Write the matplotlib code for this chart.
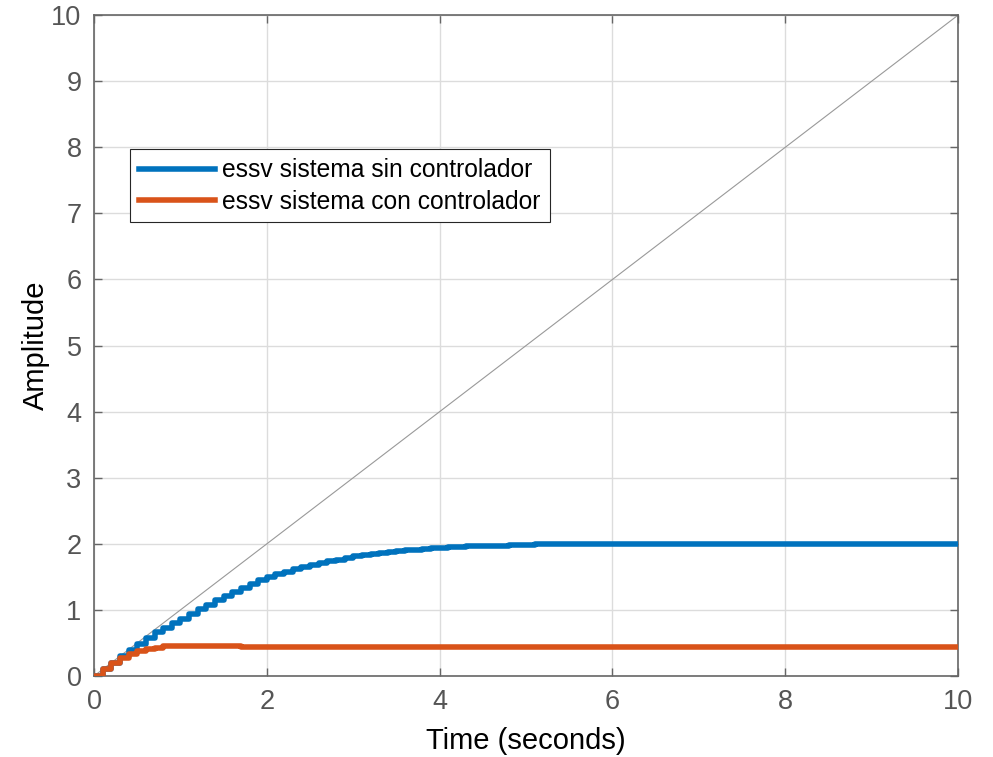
import numpy as np
import matplotlib
matplotlib.use('Agg')
from matplotlib import pyplot as plt

plt.rcParams['font.family'] = ['Liberation Sans', 'DejaVu Sans']

# sample time of the discrete responses
Ts = 0.1

# response without controller, t = 0.0 ... 5.5
sin_ctrl_head = [0.00, 0.10, 0.20, 0.30, 0.40, 0.49, 0.58, 0.66, 0.73, 0.80,
                 0.87, 0.94, 1.01, 1.08, 1.15, 1.21, 1.27, 1.33, 1.39, 1.45,
                 1.50, 1.54, 1.58, 1.62, 1.65, 1.68, 1.71, 1.74, 1.76, 1.79,
                 1.81, 1.83, 1.85, 1.86, 1.88, 1.89, 1.90, 1.91, 1.92, 1.93,
                 1.94, 1.95, 1.95, 1.96, 1.96, 1.97, 1.97, 1.97, 1.98, 1.98,
                 1.98, 1.99, 1.99, 1.99, 1.99, 1.99]
sin_ctrl_final = 2.00

# response with controller, t = 0.0 ... 1.7
con_ctrl_head = [0.00, 0.10, 0.19, 0.27, 0.33, 0.38, 0.41, 0.43, 0.45, 0.46,
                 0.46, 0.46, 0.46, 0.45, 0.45, 0.45, 0.45, 0.44]
con_ctrl_final = 0.44

t_end = 10
n = int(round(t_end / Ts)) + 1
t = np.arange(n) * Ts

y_sin = np.full(n, sin_ctrl_final)
y_sin[:len(sin_ctrl_head)] = sin_ctrl_head
y_con = np.full(n, con_ctrl_final)
y_con[:len(con_ctrl_head)] = con_ctrl_head

ramp_t = [0, 10]
ramp_y = [0, 10]

labels = ['essv sistema sin controlador', 'essv sistema con controlador']

fig = plt.figure(figsize=(9.93, 7.57), dpi=100)
ax = fig.add_axes([0.0947, 0.107, 0.8701, 0.873])

ax.plot(ramp_t, ramp_y, color='#999999', lw=0.8, zorder=2)
ax.step(t, y_sin, where='post', color='#0072BD', lw=4.0, label=labels[0], zorder=3)
ax.step(t, y_con, where='post', color='#D95319', lw=4.0, label=labels[1], zorder=4)

ax.set_xlim(0, 10)
ax.set_ylim(0, 10)
ax.set_xticks(np.arange(0, 11, 2))
ax.set_yticks(np.arange(0, 11, 1))
ax.grid(True, color='#dcdcdc', lw=1.0)
ax.set_axisbelow(True)

for s in ax.spines.values():
    s.set_color('#666666')
    s.set_linewidth(1.2)
ax.tick_params(direction='in', length=6, width=1.0, color='#666666',
               labelcolor='#555555', labelsize=19.5, top=True, right=True, pad=9)

ax.set_xlabel('Time (seconds)', fontsize=21, color='black', labelpad=9)
ax.set_ylabel('Amplitude', fontsize=21, color='black', labelpad=1)

leg = ax.legend(loc='upper left', bbox_to_anchor=(0.0417, 0.797), fontsize=17.7,
                frameon=True, fancybox=False, edgecolor='#262626', framealpha=1,
                handlelength=3.1, borderpad=0.36, borderaxespad=0, labelspacing=0.3,
                handletextpad=0.3)
leg.get_frame().set_linewidth(0.8)

fig.savefig('out.png', dpi=100)
